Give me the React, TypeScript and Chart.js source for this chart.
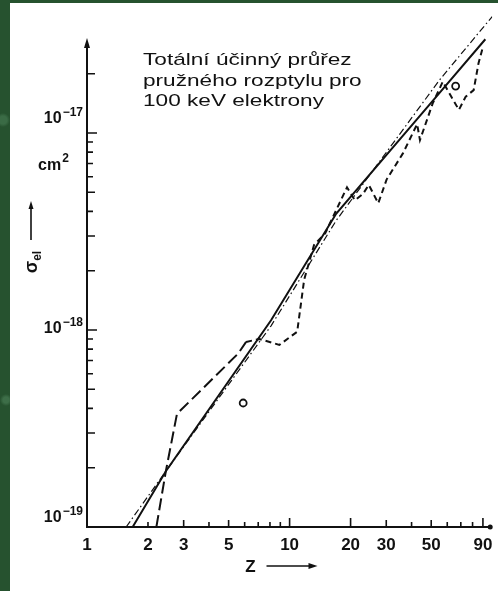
import { useEffect, useRef } from "react";
import { Chart, registerables } from "chart.js";

Chart.register(...registerables);

// Total elastic cross-section σ_el (cm²) versus atomic number Z for 100 keV electrons
const solidZ = [1.68, 2.45, 8.1, 17, 54.7, 92.5];
const solidSigma = [1e-19, 1.92e-19, 1.12e-18, 3.9e-18, 1.59e-17, 2.99e-17];

const dashDotZ = [1.56, 2.45, 8.1, 17, 55, 100];
const dashDotSigma = [1e-19, 1.92e-19, 1.05e-18, 3.6e-18, 1.86e-17, 3.9e-17];

const dashedZ = [
  2.2, 2.45, 2.78, 5.58, 6.1, 7.1, 8.9, 10.9, 11.8, 13.2, 15, 19.2, 21, 23, 24.6, 27.4,
  30.1, 36.3, 42.6, 44, 50.8, 57, 68.5, 74, 81, 85.6, 89.7,
];
const dashedSigma = [
  1.0e-19, 1.92e-19, 3.75e-19, 7.6e-19, 8.7e-19, 9.0e-19, 8.4e-19, 9.8e-19, 1.8e-18, 2.7e-18,
  3.1e-18, 5.3e-18, 4.55e-18, 4.9e-18, 5.45e-18, 4.4e-18, 5.8e-18, 7.9e-18, 1.11e-17, 9.2e-18,
  1.41e-17, 1.82e-17, 1.31e-17, 1.53e-17, 1.65e-17, 2.26e-17, 2.7e-17,
];

const measuredZ = [5.9, 66];
const measuredSigma = [4.26e-19, 1.73e-17];

const xTickLabels = [1, 2, 3, 5, 10, 20, 30, 50, 90];
const xMinorTicks = [2, 3, 4, 5, 6, 7, 8, 9, 10, 20, 30, 40, 50, 60, 70, 80, 90];
const yTickExponents = [-19, -18, -17];
const yAxisTop = 2.9e-17;

const titleLines = ["Totální účinný průřez", "pružného rozptylu pro", "100 keV elektrony"];

// vertical nudge of each decade label relative to its tick
const yLabelShift = [-5, 3, -10];

const INK = "#111";
const SANS = "'Liberation Sans', Arial, sans-serif";

const toPoints = (xs: number[], ys: number[]) => xs.map((x, i) => ({ x, y: ys[i] }));

const paperAxes = {
  id: "paperAxes",
  afterDatasetsDraw(chart: any) {
    const { ctx } = chart;
    const xs = chart.scales.x;
    const ys = chart.scales.y;
    const x0 = xs.getPixelForValue(1);
    const y0 = ys.getPixelForValue(1e-19);
    const xEnd = xs.getPixelForValue(100);
    const yTop = ys.getPixelForValue(yAxisTop);

    ctx.save();
    ctx.strokeStyle = INK;
    ctx.fillStyle = INK;
    ctx.lineCap = "butt";
    ctx.setLineDash([]);

    // axis lines
    ctx.lineWidth = 2;
    ctx.beginPath();
    ctx.moveTo(x0, y0 + 1);
    ctx.lineTo(x0, yTop + 4);
    ctx.moveTo(x0 - 1, y0);
    ctx.lineTo(xEnd - 2, y0);
    ctx.stroke();

    // arrow tip on the σ axis
    ctx.beginPath();
    ctx.moveTo(x0, yTop - 4);
    ctx.lineTo(x0 - 3, yTop + 6);
    ctx.lineTo(x0 + 3, yTop + 6);
    ctx.closePath();
    ctx.fill();
    // end dot on the Z axis
    ctx.beginPath();
    ctx.arc(xEnd - 2, y0, 2.5, 0, Math.PI * 2);
    ctx.fill();

    // σ axis ticks (pointing inward)
    ctx.lineWidth = 1.6;
    ctx.beginPath();
    for (const e of yTickExponents) {
      for (let m = 1; m <= 9; m++) {
        const v = m * Math.pow(10, e);
        if (v <= 1.01e-19 || v > 2.1e-17) continue;
        const py = ys.getPixelForValue(v);
        const len = m === 1 ? 10 : m === 2 || m === 3 || m === 5 ? 8 : 6;
        ctx.moveTo(x0, py);
        ctx.lineTo(x0 + len, py);
      }
    }
    // Z axis ticks (pointing inward)
    for (const z of xMinorTicks) {
      const px = xs.getPixelForValue(z);
      const len = z === 10 || z === 20 || z === 90 ? 9 : z === 3 || z === 5 || z === 30 || z === 50 ? 7 : 5;
      ctx.moveTo(px, y0);
      ctx.lineTo(px, y0 - len);
    }
    ctx.stroke();

    // Z tick labels
    ctx.font = `bold 17px ${SANS}`;
    ctx.textAlign = "center";
    ctx.textBaseline = "alphabetic";
    for (const z of xTickLabels) {
      ctx.fillText(String(z), xs.getPixelForValue(z), y0 + 23);
    }

    // σ tick labels: 10 with a raised exponent
    yTickExponents.forEach((e, i) => {
      const py = ys.getPixelForValue(Math.pow(10, e)) + yLabelShift[i];
      const sup = "\u2212" + String(-e);
      ctx.font = `bold 12px ${SANS}`;
      const supW = ctx.measureText(sup).width;
      ctx.textAlign = "left";
      ctx.fillText(sup, x0 - 4 - supW, py - 7);
      ctx.font = `bold 16px ${SANS}`;
      ctx.textAlign = "right";
      ctx.fillText("10", x0 - 5 - supW, py);
    });

    // unit under 10^-17
    const unitBase = ys.getPixelForValue(1e-17) + 37;
    ctx.textAlign = "left";
    ctx.font = `bold 16px ${SANS}`;
    ctx.fillText("cm", x0 - 49, unitBase);
    const cmW = ctx.measureText("cm").width;
    ctx.font = `bold 12px ${SANS}`;
    ctx.fillText("2", x0 - 48 + cmW, unitBase - 8);

    // σ_el axis title, rotated, with an upward arrow
    const sx = x0 - 56;
    const sy = 259;
    ctx.save();
    ctx.translate(sx, sy);
    ctx.rotate(-Math.PI / 2);
    ctx.font = `bold 18px ${SANS}`;
    const sigW = ctx.measureText("σ").width;
    ctx.font = `bold 12px ${SANS}`;
    const elW = ctx.measureText("el").width;
    const total = sigW + elW;
    ctx.textAlign = "left";
    ctx.font = `bold 18px ${SANS}`;
    ctx.fillText("σ", -total / 2, 6);
    ctx.font = `bold 12px ${SANS}`;
    ctx.fillText("el", -total / 2 + sigW, 10);
    ctx.restore();

    ctx.lineWidth = 1.6;
    ctx.beginPath();
    ctx.moveTo(sx, 237);
    ctx.lineTo(sx, 204);
    ctx.stroke();
    ctx.beginPath();
    ctx.moveTo(sx, 198);
    ctx.lineTo(sx - 2.5, 206);
    ctx.lineTo(sx + 2.5, 206);
    ctx.closePath();
    ctx.fill();

    // Z axis title with a rightward arrow
    const zx = x0 + 163.5;
    const zy = y0 + 45;
    ctx.font = `bold 17px ${SANS}`;
    ctx.textAlign = "center";
    ctx.fillText("Z", zx, zy);
    ctx.beginPath();
    ctx.moveTo(zx + 16, zy - 6);
    ctx.lineTo(zx + 60, zy - 6);
    ctx.stroke();
    ctx.beginPath();
    ctx.moveTo(zx + 67, zy - 6);
    ctx.lineTo(zx + 58, zy - 9);
    ctx.lineTo(zx + 58, zy - 3);
    ctx.closePath();
    ctx.fill();

    // caption
    ctx.font = `17px ${SANS}`;
    ctx.textAlign = "left";
    const capX = x0 + 56;
    titleLines.forEach((line, i) => {
      ctx.save();
      ctx.translate(capX, 62 + i * 20.5);
      ctx.scale(1.33, 1);
      ctx.fillText(line, 0, 0);
      ctx.restore();
    });

    ctx.restore();
  },
};

export default function App() {
  const ref = useRef<HTMLCanvasElement>(null);

  useEffect(() => {
    const canvas = ref.current;
    if (!canvas) return;
    const chart = new Chart(canvas, {
      type: "line",
      data: {
        datasets: [
          {
            label: "solid",
            data: toPoints(solidZ, solidSigma),
            borderColor: INK,
            borderWidth: 2,
            pointRadius: 0,
            tension: 0,
          },
          {
            label: "dash-dot",
            data: toPoints(dashDotZ, dashDotSigma),
            borderColor: INK,
            borderWidth: 1.2,
            borderDash: [7, 3, 1.5, 3],
            pointRadius: 0,
            tension: 0,
          },
          {
            label: "dashed",
            data: toPoints(dashedZ, dashedSigma),
            borderColor: INK,
            borderWidth: 2,
            borderDash: [6, 4],
            segment: {
              borderDash: (c: any) => (c.p0.parsed.x < 6 ? [12, 5] : [6, 4]),
            },
            pointRadius: 0,
            tension: 0,
          },
          {
            label: "measured",
            data: toPoints(measuredZ, measuredSigma),
            showLine: false,
            pointRadius: 3.5,
            pointBorderWidth: 1.8,
            pointBorderColor: INK,
            pointBackgroundColor: "#fff",
          },
        ],
      },
      options: {
        responsive: false,
        animation: false,
        devicePixelRatio: 1,
        layout: { padding: { left: 77, right: 1, top: 7.2, bottom: 64 } },
        plugins: { legend: { display: false }, tooltip: { enabled: false } },
        scales: {
          x: { type: "logarithmic", min: 1, max: 100, display: false },
          y: { type: "logarithmic", min: 1e-19, max: 4.2e-17, display: false },
        },
      },
      plugins: [paperAxes],
    });
    return () => chart.destroy();
  }, []);

  return (
    <div
      style={{
        position: "fixed",
        inset: 0,
        background:
          "radial-gradient(circle at 3px 120px, #3a6b45 0 4px, transparent 7px), radial-gradient(circle at 6px 400px, #3d6e48 0 3px, transparent 6px), #26522f",
      }}
    >
      <canvas
        ref={ref}
        width={488}
        height={588}
        style={{ position: "absolute", left: 10, top: 3, width: 488, height: 588, background: "#fff" }}
      />
    </div>
  );
}
